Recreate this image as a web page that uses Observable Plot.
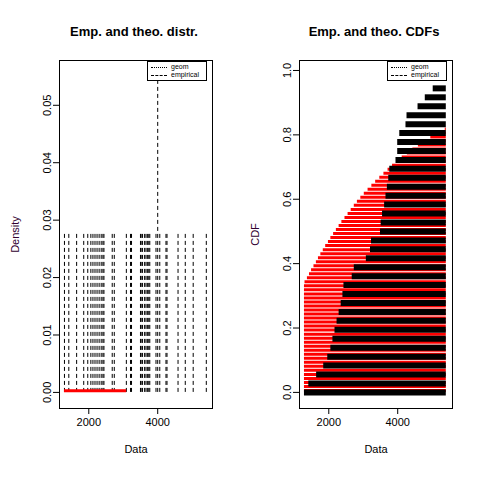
<!DOCTYPE html>
<html><head><meta charset="utf-8">
<script src="https://cdn.jsdelivr.net/npm/d3@7"></script>
<script src="https://cdn.jsdelivr.net/npm/@observablehq/plot@0.6"></script>
<style>
body{margin:0;background:#fff;font-family:"Liberation Sans",Arial,sans-serif}
#wrap{position:relative;width:480px;height:480px;display:flex}
.t{position:absolute;font-weight:bold;font-size:13px;text-align:center;width:240px;top:24px}
.leg{position:absolute;border:1px solid #000;background:#fff;font-size:7px;line-height:8px;padding:1px 3px;width:52px}
.leg div{display:flex;align-items:center;gap:4px}
.leg span.l{display:inline-block;width:16px;border-top:1px solid #000}
</style></head><body>
<div id="wrap"></div>
<script>
const data = [1294,1420,1647,1853,1970,2060,2120,2180,2240,2300,2360,2410,2440,2680,2740,3090,3210,3240,3500,3520,3560,3620,3660,3700,3740,3770,3950,4000,4000,4060,4240,4270,4590,4800,5030,5410];
const theoY = [0,0.0125,0.025,0.0375,0.05,0.0625,0.075,0.0875,0.1,0.1125,0.125,0.1375,0.15,0.1625,0.175,0.1875,0.2,0.2125,0.225,0.2375,0.25,0.2625,0.275,0.2875,0.3,0.3125,0.325,0.3375,0.35,0.3625,0.375,0.3875,0.4,0.4125,0.425,0.4375,0.45,0.4625,0.475,0.4875,0.5,0.5125,0.525,0.5375,0.55,0.5625,0.575,0.5875,0.6,0.6125,0.625,0.6375,0.65,0.6625,0.675,0.6875,0.7,0.7125,0.725,0.7375,0.75,0.7625,0.775,0.7875,0.8,0.8125];
const theoX = [1294,1294,1294,1294,1294,1294,1294,1294,1294,1294,1294,1294,1294,1294,1294,1294,1294,1294,1294,1294,1294,1294,1294,1294,1294,1294,1294,1310,1380,1440,1500,1570,1640,1700,1770,1840,1910,1990,2060,2140,2220,2300,2380,2470,2560,2650,2740,2830,2930,3030,3140,3250,3360,3480,3600,3720,3850,3990,4130,4280,4440,4600,4770,4960,5150,5380];
const geomDens = [{x1:1294,x2:3100,y:0.0003}];
const n = data.length;
const counts = Array.from(d3.rollup(data, v => v.length / n, d => d), ([x, p]) => ({x, p}));
const ecdf = data.map((x, i) => ({x, y: i / n}));
const theo = theoY.map((y, i) => ({x: theoX[i], y}));
const xmax = d3.max(data);
const wrap = document.getElementById("wrap");
const common = {width:240,height:480,marginLeft:59,marginRight:28,marginTop:60,marginBottom:72,
  style:{fontFamily:"Liberation Sans, Arial, sans-serif",fontSize:"11px",background:"#fff",color:"#000"}};
const xopt = {domain:[1150,5590],ticks:[2000,4000],tickFormat:d=>String(d),label:"Data",labelAnchor:"center",labelArrow:false,labelOffset:44,tickSize:6,tickPadding:4};
const p1 = Plot.plot({...common,
  x:xopt,
  y:{domain:[-0.0028,0.0578],ticks:[0,0.01,0.02,0.03,0.04,0.05],tickFormat:d3.format(".2f"),tickRotate:-90,label:"Density",labelAnchor:"center",labelArrow:false,labelOffset:48,tickSize:6},
  marks:[
    Plot.frame(),
    Plot.ruleX(counts,{x:"x",y1:0,y2:"p",stroke:"#000",strokeWidth:1,strokeDasharray:"4,3"}),
    Plot.ruleY(geomDens,{y:"y",x1:"x1",x2:"x2",stroke:"red",strokeWidth:3})
  ]});
const p2 = Plot.plot({...common,
  x:xopt,
  y:{domain:[-0.05,1.031],ticks:[0,0.2,0.4,0.6,0.8,1],tickFormat:d3.format(".1f"),tickRotate:-90,label:"CDF",labelAnchor:"center",labelArrow:false,labelOffset:48,tickSize:6},
  marks:[
    Plot.frame(),
    Plot.ruleY(theo,{y:d=>d.y+0.006,x1:"x",x2:xmax,stroke:"red",strokeWidth:3}),
    Plot.ruleY(ecdf,{y:"y",x1:"x",x2:xmax,stroke:"#000",strokeWidth:6}),
    Plot.ruleY([{x:data[n-1],y:1}],{y:"y",x1:"x",x2:xmax,stroke:"#000",strokeWidth:1})
  ]});
[p1,p2].forEach(p=>{p.querySelectorAll("[aria-label='y-axis label'] text, [aria-label='y-axis label']").forEach(e=>e.setAttribute("fill","#300030"));});
wrap.append(p1,p2);
const tt=[["Emp. and theo. distr.",0],["Emp. and theo. CDFs",240]];
tt.forEach(([s,l])=>{const d=document.createElement("div");d.className="t";d.style.left=(l+14)+"px";d.textContent=s;wrap.append(d);});
[[150],[390]].forEach(([l])=>{const d=document.createElement("div");d.className="leg";d.style.left=(l-3)+"px";d.style.top="61px";
 d.innerHTML='<div><span class="l" style="border-top-style:dotted"></span>geom</div><div><span class="l" style="border-top-style:dashed"></span>empirical</div>';wrap.append(d);});
</script></body></html>
